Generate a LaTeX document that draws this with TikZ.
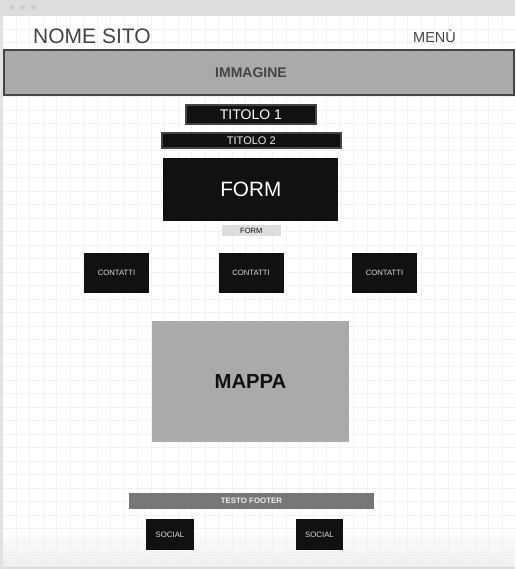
\documentclass[tikz,border=0pt]{standalone}
\usepackage{fontspec}
\setmainfont{Liberation Sans}
\usetikzlibrary{fadings}
\definecolor{barbg}{HTML}{DDDDDD}
\definecolor{bardot}{HTML}{CDCDCD}
\definecolor{edgegray}{HTML}{E2E2E2}
\definecolor{gridgray}{HTML}{F2F2F2}
\definecolor{fadegray}{HTML}{EFEFEF}
\definecolor{textgray}{HTML}{444444}
\definecolor{framegray}{HTML}{444444}
\definecolor{ink}{HTML}{111111}
\definecolor{midgray}{HTML}{AAAAAA}
\definecolor{footgray}{HTML}{777777}
\definecolor{labelgray}{HTML}{DDDDDD}
\definecolor{softwhite}{HTML}{EEEEEE}
\newcommand{\pxfont}[1]{\fontsize{#1}{#1}\selectfont}
\begin{document}
\begin{tikzpicture}[x=1pt,y=-1pt,
  box/.style={inner sep=0pt, outer sep=0pt, anchor=center, align=center},
  darkbox/.style={box, fill=ink},
  framed/.style={darkbox, draw=framegray, line width=2pt},
  contact/.style={darkbox, minimum width=65pt, minimum height=40pt,
    text=labelgray, font=\pxfont{7.7}},
  social/.style={darkbox, minimum height=31pt, text=labelgray, font=\pxfont{7.8}},
  gridline/.style={draw=gridgray, line width=0.9pt},
  header/.style={inner sep=0pt, anchor=base west, text=textgray}]
\useasboundingbox (0,0) rectangle (515,569);
\fill[white] (0,0) rectangle (515,569);

% background grid
\begin{scope}
  \clip (3,16) rectangle (515,567);
  \foreach \k in {0,...,38}
    \draw[gridline] ({2.5+13.5*\k},16) -- ({2.5+13.5*\k},567);
  \foreach \k in {1,...,42}
    \draw[gridline] (3,{2+13.5*\k}) -- (515,{2+13.5*\k});
\end{scope}

% soft fade towards the bottom edge
\fill[fadegray, path fading=north] (3,530) rectangle (515,567);
\fill[barbg] (0,567) rectangle (515,569);

% window chrome
\fill[barbg] (0,0) rectangle (515,16);
\foreach \cx in {12,23,34}
  \fill[bardot] (\cx,7.5) circle (2.6);
\fill[edgegray] (0,16) rectangle (3,569);

% header
\node[header, font=\pxfont{21}] (site) at (33,44) {NOME SITO};
\node[header, font=\pxfont{14.5}] (menu) at (413,43) {MENÙ};

% hero image
\node[box, fill=midgray, draw=framegray, line width=2pt,
  minimum width=510pt, minimum height=45pt] (hero) at (259,72.5) {};
\node[box, text=textgray, font=\bfseries\pxfont{14}] (herolabel) at (251,73) {IMMAGINE};

% titles
\node[framed, minimum width=129.7pt, minimum height=18.7pt,
  text=white, font=\pxfont{14}] (title1) at (250.9,114.7) {TITOLO 1};
\node[framed, minimum width=178.7pt, minimum height=15.6pt,
  text=softwhite, font=\pxfont{11}] (title2) at (251.3,140.5) {TITOLO 2};

% form
\node[darkbox, minimum width=175pt, minimum height=63.3pt,
  text=white, font=\pxfont{20.7}] (form) at (250.8,189.3) {FORM};
\node[box, fill=labelgray, minimum width=59.3pt, minimum height=11pt,
  text=ink, font=\pxfont{7.6}] (formlabel) at (251.3,230.5) {FORM};

% contacts
\node[contact] (contact1) at (116.5,272.7) {CONTATTI};
\node[contact] (contact2) at (251,272.7) {CONTATTI};
\node[contact] (contact3) at (384.5,272.7) {CONTATTI};

% map
\node[box, fill=midgray, minimum width=197pt, minimum height=121pt,
  text=ink, font=\bfseries\pxfont{20.3}] (map) at (250.5,381.2) {MAPPA};

% footer
\node[box, fill=footgray, minimum width=245pt, minimum height=15.7pt,
  text=softwhite, font=\bfseries\pxfont{7.9}] (footer) at (251.5,501.2) {TESTO FOOTER};
\node[social, minimum width=48pt] (social1) at (170,534.5) {SOCIAL};
\node[social, minimum width=47pt] (social2) at (319.5,534.5) {SOCIAL};
\end{tikzpicture}
\end{document}
